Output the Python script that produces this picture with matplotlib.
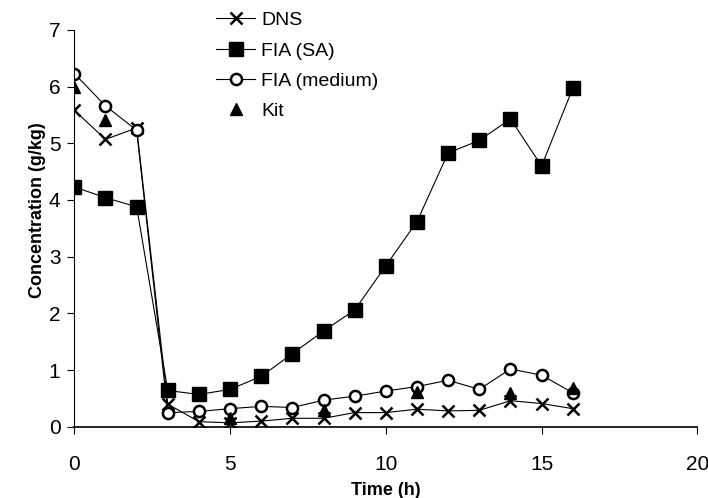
import matplotlib
matplotlib.use('Agg')
import matplotlib.pyplot as plt

plt.rcParams['font.family'] = ['Liberation Sans', 'DejaVu Sans']

# Time points (h)
time = [0, 1, 2, 3, 4, 5, 6, 7, 8, 9, 10, 11, 12, 13, 14, 15, 16]

dns = [5.58, 5.07, 5.27, 0.40, 0.09, 0.07, 0.10, 0.15, 0.15, 0.25, 0.25,
       0.31, 0.28, 0.29, 0.46, 0.41, 0.32]
fia_sa = [4.23, 4.04, 3.88, 0.64, 0.57, 0.66, 0.89, 1.29, 1.69, 2.06, 2.84,
          3.62, 4.83, 5.05, 5.43, 4.60, 5.97]
fia_medium = [6.23, 5.66, 5.23, 0.25, 0.27, 0.32, 0.36, 0.34, 0.47, 0.54, 0.63,
              0.71, 0.82, 0.66, 1.02, 0.91, 0.60]

kit_time = [0, 1, 5, 8, 11, 14, 16]
kit = [6.00, 5.41, 0.15, 0.29, 0.62, 0.59, 0.68]

fig = plt.figure(figsize=(7.08, 4.98), dpi=100)
ax = fig.add_axes([0.105, 0.143, 0.88, 0.797])

ax.plot(time, dns, color='black', lw=0.8, marker='x', markersize=9,
        markeredgewidth=1.8, label='DNS')
ax.plot(time, fia_sa, color='black', lw=0.8, marker='s', markersize=10,
        markerfacecolor='black', label='FIA (SA)')
ax.plot(time, fia_medium, color='black', lw=0.8, marker='o', markersize=8,
        markerfacecolor='white', markeredgewidth=1.8, label='FIA (medium)')
ax.plot(kit_time, kit, linestyle='none', color='black', marker='^',
        markersize=9, label='Kit')

ax.set_xlim(0, 20)
ax.set_ylim(0, 7)
ax.set_xticks([0, 5, 10, 15, 20])
ax.set_yticks(range(0, 8))
ax.tick_params(direction='out', length=5, width=0.8, labelsize=15)
ax.tick_params(axis='x', pad=15)
ax.tick_params(axis='y', pad=5)
ax.spines['top'].set_visible(False)
ax.spines['right'].set_visible(False)
ax.spines['left'].set_linewidth(0.8)
ax.spines['bottom'].set_linewidth(1.2)

ax.set_xlabel('Time (h)', fontsize=13, fontweight='bold')
ax.set_ylabel('Concentration (g/kg)', fontsize=13, fontweight='bold')
ax.xaxis.set_label_coords(0.5, -0.14)
ax.yaxis.set_label_coords(-0.045, 0.546)

ax.legend(loc='upper left', bbox_to_anchor=(0.2, 1.09), frameon=False,
          fontsize=14, handlelength=2.0, handletextpad=0.3, labelspacing=0.65)

plt.savefig('out.png', dpi=100)
plt.close()
